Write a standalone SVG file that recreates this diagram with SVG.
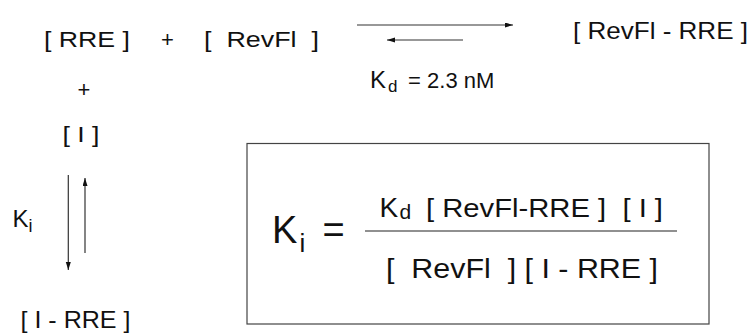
<svg xmlns="http://www.w3.org/2000/svg" width="753" height="333" viewBox="0 0 753 333">
<style>
text{font-family:"Liberation Sans",Arial,sans-serif;fill:#111}
.c{stroke:#333;stroke-width:1.2;fill:none}
</style>
<defs>
<marker id="ah" markerUnits="userSpaceOnUse" markerWidth="9" markerHeight="6" refX="8" refY="2.5" orient="auto">
<path d="M0,0 L8,2.5 L0,5 z" fill="#111"/>
</marker>
</defs>
<rect width="753" height="333" fill="#fff"/>
<g id="connectors">
<line class="c" x1="357" y1="25" x2="513" y2="25" marker-end="url(#ah)"/>
<line class="c" x1="463" y1="40" x2="387" y2="40" marker-end="url(#ah)"/>
<line class="c" x1="68.3" y1="175" x2="68.3" y2="270" marker-end="url(#ah)"/>
<line class="c" x1="85" y1="253" x2="85" y2="178" marker-end="url(#ah)"/>
</g>
<g id="rre"><text x="44" y="47" font-size="22" textLength="86" lengthAdjust="spacingAndGlyphs">[ RRE ]</text></g>
<g id="plus1"><text x="167.5" y="47" font-size="22" text-anchor="middle">+</text></g>
<g id="revfl"><text x="204" y="47" font-size="22" textLength="115" lengthAdjust="spacingAndGlyphs" xml:space="preserve">[  RevFl  ]</text></g>
<g id="complex"><text x="573" y="38.5" font-size="24" textLength="175" lengthAdjust="spacingAndGlyphs">[ RevFl - RRE ]</text></g>
<g id="kd"><text y="88.3" font-size="22"><tspan x="370" font-size="24">K</tspan><tspan x="388" y="91.5" font-size="17">d</tspan><tspan x="402" y="88.3"> = 2.3 nM</tspan></text></g>
<g id="plus2"><text x="84" y="97" font-size="22" text-anchor="middle">+</text></g>
<g id="inhib"><text x="62.5" y="142" font-size="22" textLength="37" lengthAdjust="spacingAndGlyphs">[ I ]</text></g>
<g id="ki"><text y="226.5" font-size="24"><tspan x="12.5">K</tspan><tspan x="28.5" y="231.5" font-size="18">i</tspan></text></g>
<g id="irre"><text x="20.5" y="327.5" font-size="24" textLength="110" lengthAdjust="spacingAndGlyphs">[ I - RRE ]</text></g>
<g id="equation">
<rect x="247" y="143.5" width="462" height="180.5" fill="none" stroke="#444" stroke-width="1.2"/>
<text y="243.3" font-size="38"><tspan x="272">K</tspan><tspan x="299.5" y="251.5" font-size="26">i</tspan><tspan x="322.5" y="243.3">=</tspan></text>
<line x1="365" y1="231" x2="677" y2="231" stroke="#222" stroke-width="1.2"/>
<text y="216.7" font-size="26"><tspan x="379.5" font-size="28">K</tspan><tspan x="399.5" y="219" font-size="21">d</tspan></text>
<text x="426" y="216.7" font-size="26" textLength="237" lengthAdjust="spacingAndGlyphs" xml:space="preserve">[ RevFl-RRE ]  [ I ]</text>
<text x="386" y="278" font-size="28" textLength="272" lengthAdjust="spacingAndGlyphs" xml:space="preserve">[  RevFl  ] [ I - RRE ]</text>
</g>
</svg>
